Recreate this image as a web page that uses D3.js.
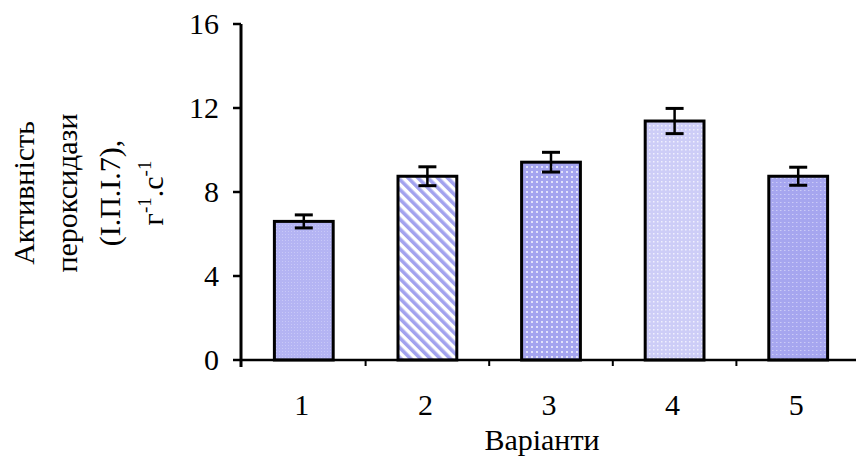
<!DOCTYPE html>
<html><head><meta charset="utf-8">
<script src="https://cdn.jsdelivr.net/npm/d3@7"></script>
<style>
html,body{margin:0;padding:0;background:#fff;}
svg{display:block;}
text{font-family:"Liberation Serif","Times New Roman",serif;fill:#000;}
</style></head>
<body>
<svg id="chart" width="856" height="457"></svg>
<script>
const categories = ["1","2","3","4","5"];
const values = [6.6, 8.75, 9.42, 11.38, 8.75];
const errors = [0.31, 0.45, 0.47, 0.6, 0.43];
const yTicks = [0, 4, 8, 12, 16];
const fills = ["p1","p2","p3","p4","p5"];
const yTitleLines = ["Активність", "пероксидази", "(І.П.І.7),"];
const xTitle = "Варіанти";

const svg = d3.select("#chart");
const defs = svg.append("defs");

// patterns
const p1 = defs.append("pattern").attr("id","p1").attr("width",3).attr("height",3).attr("patternUnits","userSpaceOnUse");
p1.append("rect").attr("width",3).attr("height",3).attr("fill","#b4b4f3");
p1.append("rect").attr("width",1).attr("height",1).attr("fill","#c8c8f8");

const p2 = defs.append("pattern").attr("id","p2").attr("width",7).attr("height",7).attr("patternUnits","userSpaceOnUse").attr("patternTransform","rotate(-45)");
p2.append("rect").attr("width",7).attr("height",7).attr("fill","#ffffff");
p2.append("rect").attr("width",3.6).attr("height",7).attr("fill","#a2a2ee");

const p3 = defs.append("pattern").attr("id","p3").attr("width",5).attr("height",5).attr("patternUnits","userSpaceOnUse");
p3.append("rect").attr("width",5).attr("height",5).attr("fill","#a4a4ef");
p3.append("rect").attr("x",1).attr("y",1).attr("width",2).attr("height",2).attr("fill","#e2e2fb");

const p4 = defs.append("pattern").attr("id","p4").attr("width",4).attr("height",4).attr("patternUnits","userSpaceOnUse");
p4.append("rect").attr("width",4).attr("height",4).attr("fill","#cdcdf7");
p4.append("rect").attr("x",1).attr("y",1).attr("width",1.5).attr("height",1.5).attr("fill","#f0f0fe");

const p5 = defs.append("pattern").attr("id","p5").attr("width",4).attr("height",4).attr("patternUnits","userSpaceOnUse");
p5.append("rect").attr("width",4).attr("height",4).attr("fill","#a6a6ef");
p5.append("rect").attr("x",0).attr("y",2).attr("width",1.5).attr("height",1).attr("fill","#cbcbf7");

const x = d3.scaleBand().domain(categories).range([242, 860]).paddingInner(0.5).paddingOuter(0.25);
const y = d3.scaleLinear().domain([0, 16]).range([360, 24]);

// bars
svg.append("g").selectAll("rect").data(values).join("rect")
  .attr("x", (d,i) => x(categories[i]) + 1.5)
  .attr("width", x.bandwidth() - 3)
  .attr("y", d => y(d))
  .attr("height", d => y(0) - y(d))
  .attr("fill", (d,i) => `url(#${fills[i]})`)
  .attr("stroke", "#000").attr("stroke-width", 3);

// error bars
const eg = svg.append("g").attr("stroke","#000").attr("stroke-width",2.5);
values.forEach((v,i) => {
  const cx = x(categories[i]) + x.bandwidth()/2;
  eg.append("line").attr("x1",cx).attr("x2",cx).attr("y1",y(v+errors[i])).attr("y2",y(v-errors[i]));
  eg.append("line").attr("x1",cx-9).attr("x2",cx+9).attr("y1",y(v+errors[i])).attr("y2",y(v+errors[i])).attr("stroke-width",3);
  eg.append("line").attr("x1",cx-9).attr("x2",cx+9).attr("y1",y(v-errors[i])).attr("y2",y(v-errors[i])).attr("stroke-width",3);
});

// x axis
const xa = svg.append("g");
xa.append("line").attr("x1",240).attr("x2",856).attr("y1",y(0)).attr("y2",y(0)).attr("stroke","#000").attr("stroke-width",2.5);
const step = x.step();
categories.forEach((c,i) => {
  const tx = x(c) + x.bandwidth()/2 + step/2;
  xa.append("line").attr("x1",tx).attr("x2",tx).attr("y1",y(0)).attr("y2",y(0)+6).attr("stroke","#000").attr("stroke-width",2);
});
xa.selectAll("text").data(categories).join("text")
  .attr("x", d => x(d) + x.bandwidth()/2 - 2).attr("y", 415)
  .attr("text-anchor","middle").attr("font-size",30).text(d => d);
svg.append("text").attr("x",542).attr("y",450).attr("text-anchor","middle").attr("font-size",30).text(xTitle);

// y axis
const ya = svg.append("g");
ya.append("line").attr("x1",241).attr("x2",241).attr("y1",y(16)).attr("y2",y(0)+7).attr("stroke","#000").attr("stroke-width",3);
yTicks.forEach(t => {
  ya.append("line").attr("x1",233).attr("x2",241).attr("y1",y(t)).attr("y2",y(t)).attr("stroke","#000").attr("stroke-width",2.5);
  ya.append("text").attr("x",219).attr("y",y(t)+10).attr("text-anchor","end").attr("font-size",30).text(t);
});

// y title
const yt = svg.append("g").attr("transform","translate(0,193) rotate(-90)");
const lineX = [34, 77, 120];
yTitleLines.forEach((l,i) => {
  yt.append("text").attr("x",0).attr("y",lineX[i]).attr("text-anchor","middle").attr("font-size",30).text(l);
});
const unit = yt.append("text").attr("x",0).attr("y",163).attr("text-anchor","middle").attr("font-size",30);
unit.append("tspan").text("г");
unit.append("tspan").attr("dy",-12).attr("font-size",19).text("-1");
unit.append("tspan").attr("dy",12).text(".с");
unit.append("tspan").attr("dy",-12).attr("font-size",19).text("-1");
</script>
</body></html>
